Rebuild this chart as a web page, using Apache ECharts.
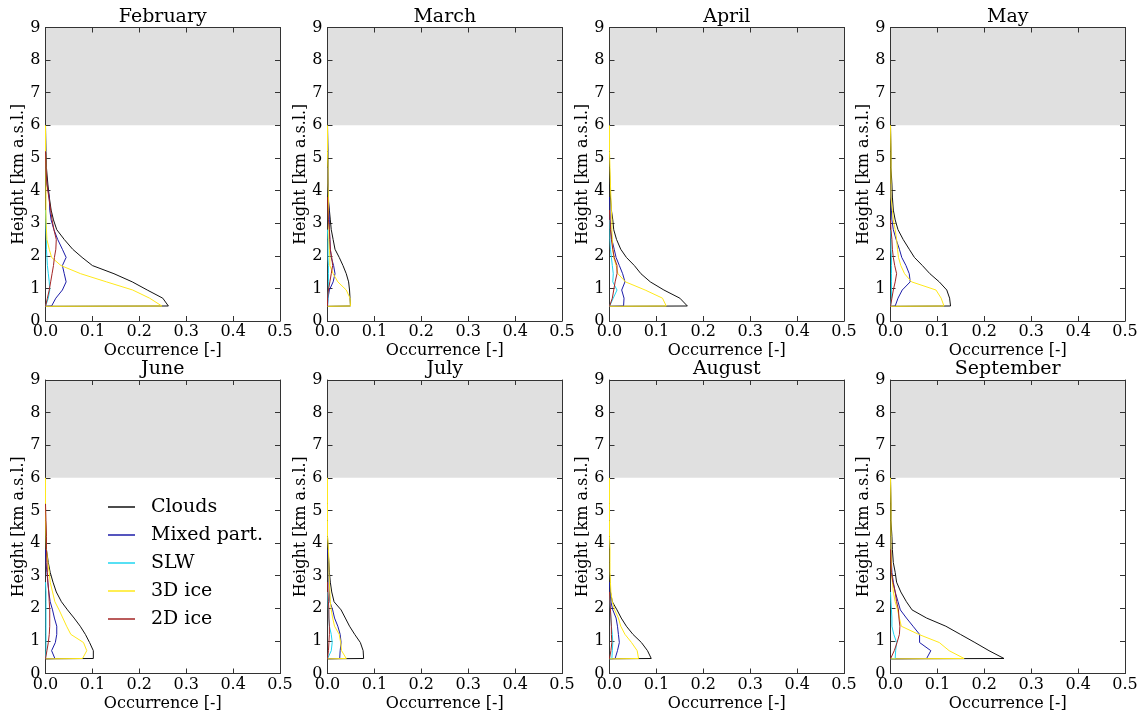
<!DOCTYPE html>
<html><head><meta charset="utf-8">
<script src="https://cdn.jsdelivr.net/npm/echarts@6/dist/echarts.min.js"></script>
<style>html,body{margin:0;padding:0;background:#fff}#c{width:1145px;height:718px}</style>
</head><body><div id="c"></div>
<script>
const months = ['February','March','April','May','June','July','August','September'];
const seriesNames = ['Clouds','Mixed part.','SLW','3D ice','2D ice'];
const xTicks = [0, 0.1, 0.2, 0.3, 0.4, 0.5];
const yTicks = [0,1,2,3,4,5,6,7,8,9];
const heights = [0.45, 0.46, 0.7, 0.95, 1.2, 1.45, 1.7, 1.95, 2.2, 2.5, 2.8, 3.1, 3.4, 3.8, 4.2, 4.7, 5.2, 6.0];

const clouds = [
 [0,0.262,0.250,0.217,0.185,0.146,0.100,0.078,0.058,0.040,0.024,0.017,0.012,0.008,0.005,0.002,0.001,0],
 [0,0.049,0.048,0.047,0.045,0.040,0.033,0.025,0.016,0.012,0.008,0.006,0.004,0.001,0.001,0.001,0.001,0],
 [0,0.166,0.150,0.116,0.087,0.067,0.053,0.036,0.024,0.015,0.009,0.007,0.004,0.002,0.001,0,0,0],
 [0,0.128,0.126,0.120,0.104,0.084,0.068,0.051,0.040,0.027,0.016,0.010,0.006,0.004,0.003,0.001,0.001,0],
 [0,0.102,0.102,0.094,0.085,0.074,0.061,0.047,0.034,0.023,0.016,0.010,0.006,0.002,0.001,0,0,0],
 [0,0.077,0.076,0.070,0.058,0.047,0.038,0.029,0.014,0.009,0.006,0.004,0.003,0.001,0,0,0,0],
 [0,0.089,0.081,0.068,0.050,0.036,0.025,0.016,0.006,0.002,0.001,0,0,0,0,0,0,0],
 [0,0.242,0.210,0.180,0.149,0.118,0.077,0.046,0.034,0.022,0.013,0.010,0.006,0.004,0.003,0.001,0.001,0]
];
const mixed = [
 [0,0.013,0.022,0.036,0.044,0.040,0.036,0.044,0.036,0.026,0.018,0.012,0.009,0.008,0.003,0.001,0,0],
 [0,0.000,0.001,0.004,0.012,0.016,0.013,0.008,0.006,0.005,0.004,0.004,0.003,0.002,0.001,0,0,0],
 [0,0.030,0.031,0.026,0.033,0.028,0.021,0.014,0.010,0.005,0.003,0.001,0.001,0,0,0,0,0],
 [0,0.010,0.016,0.025,0.042,0.040,0.033,0.024,0.019,0.012,0.006,0.003,0.002,0.001,0,0,0,0],
 [0,0.020,0.013,0.021,0.024,0.024,0.019,0.015,0.010,0.007,0.005,0.003,0.001,0,0,0,0,0],
 [0,0.026,0.027,0.029,0.027,0.022,0.015,0.011,0.005,0.004,0.003,0.003,0.002,0,0,0,0,0],
 [0,0.012,0.017,0.021,0.019,0.017,0.014,0.007,0.003,0.001,0,0,0,0,0,0,0,0],
 [0,0.077,0.086,0.062,0.062,0.048,0.034,0.021,0.016,0.010,0.006,0.003,0.002,0.001,0,0,0,0]
];
const slw = [
 [0,0.002,0.006,0.009,0.008,0.006,0.004,0.003,0.002,0.002,0.001,0.001,0,0,0,0,0,0],
 [0,0,0.001,0.002,0.002,0.002,0.002,0.001,0.001,0.001,0,0,0,0,0,0,0,0],
 [0,0.001,0.008,0.016,0.007,0.008,0.006,0.004,0.002,0.001,0.001,0,0,0,0,0,0,0],
 [0,0.001,0.002,0.002,0.002,0.002,0.002,0.002,0.001,0.001,0,0,0,0,0,0,0,0],
 [0,0.001,0.001,0.001,0.001,0.001,0.001,0.001,0.001,0.001,0,0,0,0,0,0,0,0],
 [0,0.003,0.008,0.010,0.008,0.004,0.003,0.002,0.001,0,0,0,0,0,0,0,0,0],
 [0,0.005,0.006,0.007,0.006,0.004,0.003,0.002,0.001,0,0,0,0,0,0,0,0,0],
 [0,0.010,0.011,0.013,0.007,0.003,0.003,0.002,0.001,0,0,0,0,0,0,0,0,0]
];
const ice3d = [
 [0,0.248,0.222,0.186,0.130,0.075,0.033,0.013,0.008,0.003,0.002,0.001,0.001,0.001,0.001,0.001,0,0],
 [0,0.049,0.048,0.040,0.022,0.012,0.005,0.005,0.004,0.003,0.003,0.002,0.002,0.002,0.001,0.001,0,0],
 [0,0.121,0.113,0.076,0.034,0.018,0.014,0.009,0.007,0.006,0.005,0.005,0.004,0.003,0.002,0.001,0,0],
 [0,0.114,0.108,0.097,0.045,0.030,0.022,0.017,0.015,0.013,0.010,0.006,0.004,0.001,0.001,0.001,0.001,0],
 [0,0.079,0.088,0.081,0.054,0.045,0.037,0.029,0.020,0.015,0.010,0.008,0.005,0.002,0.001,0,0,0],
 [0,0.040,0.030,0.028,0.025,0.015,0.011,0.008,0.006,0.005,0.004,0.003,0.003,0.002,0,0,0,0],
 [0,0.062,0.059,0.047,0.033,0.024,0.019,0.011,0.006,0.003,0.002,0.001,0.001,0.001,0,0,0,0],
 [0,0.157,0.125,0.104,0.060,0.023,0.019,0.015,0.010,0.006,0.004,0.002,0.002,0.001,0.001,0.001,0.001,0]
];
const ice2d = [
 [0,0.001,0.004,0.008,0.011,0.014,0.017,0.019,0.022,0.023,0.018,0.014,0.011,0.007,0.003,0.001,0,0],
 [0,0,0,0.002,0.005,0.008,0.011,0.009,0.006,0.005,0.004,0.002,0.001,0,0,0,0,0],
 [0,0,0.006,0.009,0.012,0.016,0.016,0.010,0.007,0.004,0.002,0.001,0,0,0,0,0,0],
 [0,0,0.003,0.006,0.010,0.013,0.009,0.006,0.004,0.003,0.001,0,0,0,0,0,0,0],
 [0,0,0.003,0.006,0.008,0.009,0.009,0.009,0.008,0.007,0.005,0.004,0.003,0.002,0.002,0.001,0,0],
 [0,0,0.002,0.003,0.004,0.004,0.003,0.003,0.002,0.001,0,0,0,0,0,0,0,0],
 [0,0.001,0.003,0.005,0.004,0.004,0.003,0.002,0.001,0,0,0,0,0,0,0,0,0],
 [0,0.002,0.008,0.014,0.019,0.020,0.018,0.017,0.013,0.010,0.005,0.002,0.001,0,0,0,0,0]
];
const seriesValues = [clouds, mixed, slw, ice3d, ice2d];
const colors = ['#111111','#1c1ca8','#1fd6f0','#ffe81a','#a32424'];
// profiles that stop at their top instead of running up the axis
const trimTop = [false, true, true, false, true];

const FONT = 'DejaVu Serif';
const lefts = [45.5, 327.5, 609.5, 890.5];
const tops = [27.5, 380];
const W = 234.5, H = 293.5;

const grids = [], xAxes = [], yAxes = [], series = [], titles = [];
months.forEach((m, i) => {
  const col = i % 4, row = Math.floor(i / 4);
  grids.push({left: lefts[col], top: tops[row], width: W, height: H, containLabel: false});
  titles.push({text: m, left: lefts[col] + W / 2, top: tops[row] - 20, textAlign: 'center', padding: 0,
    textStyle: {fontFamily: FONT, fontSize: 19, fontWeight: 'normal', color: '#000'}});
  const axLine = {show: true, onZero: false, lineStyle: {color: '#333', width: 1}};
  const tick = {show: true, inside: true, length: 5, lineStyle: {color: '#333'}};
  xAxes.push({type: 'value', gridIndex: i, min: xTicks[0], max: xTicks[xTicks.length - 1], interval: 0.1, position: 'bottom',
    axisLine: axLine, axisTick: tick, splitLine: {show: false}, z: 3,
    axisLabel: {fontFamily: FONT, fontSize: 16, color: '#000', margin: 3, formatter: v => v.toFixed(1)},
    name: 'Occurrence [-]', nameLocation: 'middle', nameGap: 22,
    nameTextStyle: {fontFamily: FONT, fontSize: 16, color: '#000'}});
  xAxes.push({type: 'value', gridIndex: i, min: 0, max: 0.5, interval: 0.1, position: 'top', z: 3,
    axisLine: axLine, axisTick: tick, splitLine: {show: false}, axisLabel: {show: false}});
  yAxes.push({type: 'value', gridIndex: i, min: yTicks[0], max: yTicks[yTicks.length - 1], interval: 1, position: 'left',
    axisLine: axLine, axisTick: tick, splitLine: {show: false}, z: 3,
    axisLabel: {fontFamily: FONT, fontSize: 16, color: '#000', margin: 5},
    name: 'Height [km a.s.l.]', nameLocation: 'middle', nameGap: 18,
    nameTextStyle: {fontFamily: FONT, fontSize: 16, color: '#000'}});
  yAxes.push({type: 'value', gridIndex: i, min: 0, max: 9, interval: 1, position: 'right', z: 3,
    axisLine: axLine, axisTick: tick, splitLine: {show: false}, axisLabel: {show: false}});
  seriesNames.forEach((name, s) => {
    const vals = seriesValues[s][i];
    let pts = heights.map((h, k) => [vals[k], h]);
    if (trimTop[s]) {
      let last = 0;
      vals.forEach((v, k) => { if (v > 0) last = k; });
      pts = pts.slice(0, Math.min(last + 2, pts.length));
    }
    const ser = {
      type: 'line', name: name, xAxisIndex: i * 2, yAxisIndex: i * 2,
      symbol: 'none', silent: true, animation: false,
      color: colors[s], lineStyle: {width: 1, color: colors[s]},
      data: pts
    };
    if (s === 0) {
      ser.markArea = {silent: true, itemStyle: {color: '#e0e0e0'}, data: [[{yAxis: 6}, {yAxis: 9}]]};
    }
    series.push(ser);
  });
});

const chart = echarts.init(document.getElementById('c'), null, {renderer: 'canvas'});
chart.setOption({
  animation: false,
  backgroundColor: '#fff',
  title: titles,
  grid: grids, xAxis: xAxes, yAxis: yAxes, series: series,
  legend: {
    data: seriesNames, orient: 'vertical', left: 103, top: 492,
    icon: 'rect', itemWidth: 27, itemHeight: 1.5, itemGap: 8, selectedMode: false,
    textStyle: {fontFamily: FONT, fontSize: 19, color: '#000', lineHeight: 20, padding: [0, 0, 0, 11]}
  }
});
</script>
</body></html>
